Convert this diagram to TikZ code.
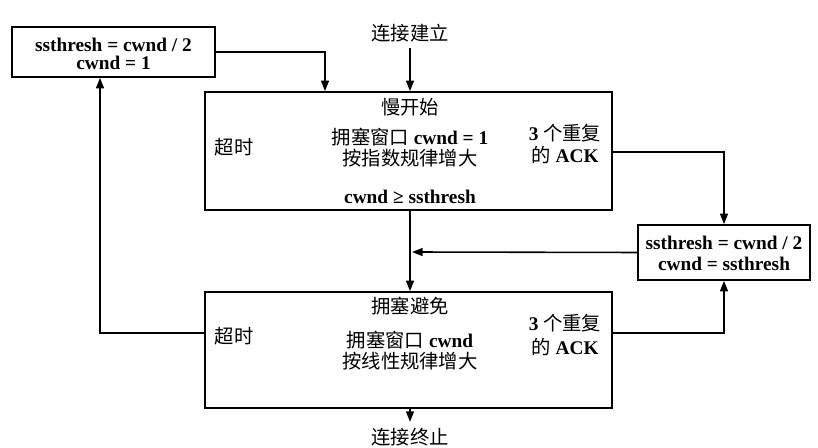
\documentclass[tikz,border=0pt]{standalone}
\usepackage{fontspec}
\setmainfont{Liberation Serif}
\newfontfamily\cjk{Noto Sans CJK SC}[BoldFont={Noto Sans CJK SC}]
\usetikzlibrary{arrows.meta}
\begin{document}
\begin{tikzpicture}[x=0.02cm,y=-0.02cm,
  box/.style={draw,line width=0.9pt,inner sep=0pt},
  t/.style={font=\bfseries\fontsize{11}{13}\selectfont,align=center},
  ar/.style={draw,line width=0.9pt,-{Triangle[length=6pt,width=4.5pt]}}]
\useasboundingbox (0,0) rectangle (818,448);
\node[box,minimum width=203*0.02cm,minimum height=50*0.02cm] (tl) at (113.5,52) {};
\node[t] (tl1) at (113.5,45) {ssthresh = cwnd / 2};
\node[t] (tl2) at (113.5,63) {cwnd = 1};
\node[t] (start) at (410,33) {{\cjk 连接建立}};
\node[box,minimum width=407*0.02cm,minimum height=118*0.02cm] (b1) at (408.5,151) {};
\node[t] (s1) at (410,107) {{\cjk 慢开始}};
\node[t] (to1) at (234,147) {{\cjk 超时}};
\node[t] (c1) at (410,137) {{\cjk 拥塞窗口} cwnd = 1};
\node[t] (c2) at (410,158) {{\cjk 按指数规律增大}};
\node[t] (c3) at (410,197) {cwnd ≥ ssthresh};
\node[t] (r1) at (565,133) {3 {\cjk 个重复}};
\node[t] (r2) at (565,155) {{\cjk 的} ACK};
\node[box,minimum width=172*0.02cm,minimum height=55*0.02cm] (rb) at (724,252.5) {};
\node[t] (rb1) at (724,243) {ssthresh = cwnd / 2};
\node[t] (rb2) at (724,264) {cwnd = ssthresh};
\node[box,minimum width=407*0.02cm,minimum height=116*0.02cm] (b2) at (408.5,350) {};
\node[t] (s2) at (410,306) {{\cjk 拥塞避免}};
\node[t] (to2) at (234,336) {{\cjk 超时}};
\node[t] (d1) at (410,340) {{\cjk 拥塞窗口} cwnd};
\node[t] (d2) at (410,361) {{\cjk 按线性规律增大}};
\node[t] (q1) at (565,323) {3 {\cjk 个重复}};
\node[t] (q2) at (565,347) {{\cjk 的} ACK};
\node[t] (end) at (410,437) {{\cjk 连接终止}};
\coordinate (j) at (412,252);
\draw[ar] (start) -- (b1.north -| start);
\draw[ar] (b1.south -| start) -- (b2.north -| start);
\draw[ar] (rb.west) -- (j);
\draw[ar] (b2.south -| end) -- (end);
\draw[ar] (b1.east |- 0,152) -| (rb.north);
\draw[ar] (b2.east |- 0,333) -| (rb.south);
\draw[ar] (b2.west |- 0,333) -| (tl.south -| 100,0);
\draw[ar] (tl.east |- 0,52) -| (b1.north -| 325,0);
\end{tikzpicture}
\end{document}
